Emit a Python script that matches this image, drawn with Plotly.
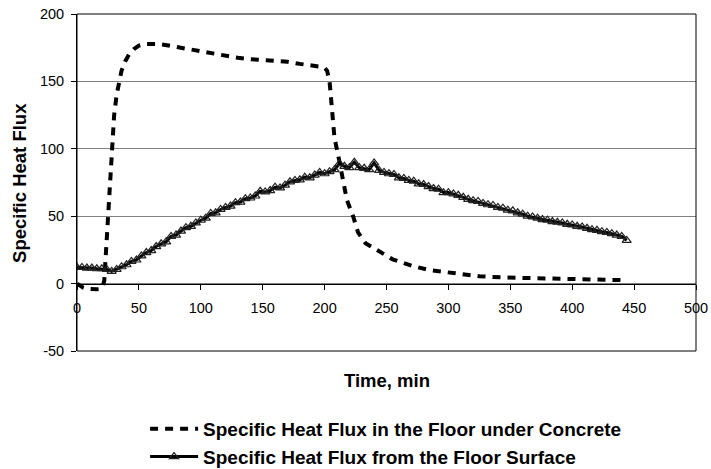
import plotly.graph_objects as go

# Series 1: Specific Heat Flux in the Floor under Concrete (dashed)
time_concrete = [0, 2, 5, 8, 12, 16, 19, 20.5, 22, 23.5, 25, 26.5, 28, 30, 32, 34, 36, 39, 42, 46,
                 50, 55, 60, 65, 70, 80, 90, 100, 110, 120, 130, 140, 150, 160, 170, 180, 190, 196,
                 200, 202, 204, 206, 208, 211, 214, 218, 223, 227, 233, 240, 245, 255, 263, 271,
                 285, 301, 325, 345, 366, 385, 401, 420, 443]
flux_concrete = [0, -1.5, -3, -3.8, -4.2, -4.2, -4, -3, 2, 25, 50, 75, 100, 125, 140, 150, 158, 165,
                 170, 174, 176.5, 177.8, 178, 177.8, 177.2, 175.5, 174, 172.5, 170.5, 169, 167.5,
                 166.5, 166, 165.5, 164.5, 163, 162, 161, 160, 158, 150, 130, 108, 95, 80, 62, 50,
                 38, 30, 26, 23, 18, 15.5, 13, 10, 8, 5.4, 4.5, 4, 3.5, 3.2, 2.9, 2.5]

# Series 2: Specific Heat Flux from the Floor Surface (solid with triangles)
time_surface = list(range(0, 445, 4))
flux_surface = [12, 12, 11.5, 11.5, 11, 11, 10.5, 9, 10.5, 12.5, 14, 16.5, 17.5, 20.5, 23, 24.5,
                27.5, 29.5, 31, 35, 36, 39, 41.5, 42.5, 45, 47, 48.5, 52, 52.5, 55, 56.5, 57.5,
                60, 60.5, 63, 63.5, 65, 68.5, 68, 69, 71.5, 71, 73, 75.5, 76.5, 77, 79, 78.5,
                80.5, 82.5, 81.5, 83, 84.5, 89, 87, 86, 90, 86, 85.5, 84.5, 89.5, 84, 82.5, 81.5,
                81, 78.5, 78, 76.5, 76, 74, 73.5, 72, 70.5, 70, 67.5, 67.5, 66.5, 65.5, 64, 62.5,
                61.5, 61, 59.5, 58.5, 58, 56.5, 56, 54.5, 54, 52.5, 51.5, 50, 49.5, 48.5, 47.5,
                47, 46, 45.5, 45, 44, 43.5, 42.5, 42, 41, 40, 39.5, 38.5, 38, 37, 36, 35, 32]

x_ticks = [0, 50, 100, 150, 200, 250, 300, 350, 400, 450, 500]
y_ticks = [-50, 0, 50, 100, 150, 200]

name_concrete = "Specific Heat Flux in the Floor under Concrete"
name_surface = "Specific Heat Flux from the Floor Surface"

FONT = "Liberation Sans, Arial, sans-serif"

fig = go.Figure()
fig.add_trace(go.Scatter(
    x=time_concrete, y=flux_concrete, mode="lines", name=name_concrete,
    line=dict(color="black", width=4, dash="8px,7px"),
))
fig.add_trace(go.Scatter(
    x=time_surface, y=flux_surface, mode="lines+markers", name=name_surface,
    line=dict(color="black", width=3),
    marker=dict(symbol="triangle-up-open", size=8, color="#222222", line=dict(width=1.2)),
))

fig.update_layout(
    width=711, height=469,
    margin=dict(l=77, r=15, t=14, b=117.5, autoexpand=False),
    paper_bgcolor="white", plot_bgcolor="white",
    font=dict(family=FONT, color="black", size=14.5),
    showlegend=True,
    legend=dict(
        x=0.11, y=-0.175, xanchor="left", yanchor="top",
        font=dict(family=FONT, size=19, color="black", weight="bold"),
        bgcolor="rgba(0,0,0,0)", itemwidth=48, tracegroupgap=0,
    ),
    xaxis=dict(
        range=[0, 500], tickvals=x_ticks, ticktext=[str(v) for v in x_ticks],
        anchor="free", position=0.2, automargin=False,
        showline=True, linecolor="black", linewidth=1,
        ticks="outside", ticklen=5, tickcolor="black",
        showgrid=False, zeroline=False, ticklabelstandoff=6,
        tickfont=dict(size=14.5),
    ),
    yaxis=dict(
        range=[-50, 200], tickvals=y_ticks, ticktext=[str(v) for v in y_ticks],
        showline=True, linecolor="black", linewidth=1, automargin=False,
        ticks="outside", ticklen=5, tickcolor="black",
        showgrid=True, gridcolor="#808080", gridwidth=1, zeroline=False,
        ticklabelstandoff=4, tickfont=dict(size=14.5),
    ),
    shapes=[dict(type="rect", xref="paper", yref="paper", x0=0, x1=1, y0=0, y1=1,
                 line=dict(color="black", width=1), layer="above")],
    annotations=[
        dict(text="<b>Time, min</b>", xref="paper", yref="paper", x=0.5, y=-0.088,
             xanchor="center", yanchor="middle", showarrow=False,
             font=dict(family=FONT, size=18.5, color="black")),
        dict(text="<b>Specific Heat Flux</b>", xref="paper", yref="paper", x=-0.093, y=0.5,
             xanchor="center", yanchor="middle", showarrow=False, textangle=-90,
             font=dict(family=FONT, size=18.5, color="black")),
    ],
)

fig.write_html("out.html", config={"displayModeBar": False},
               post_script="document.body.style.margin='0';document.body.style.padding='0';")
